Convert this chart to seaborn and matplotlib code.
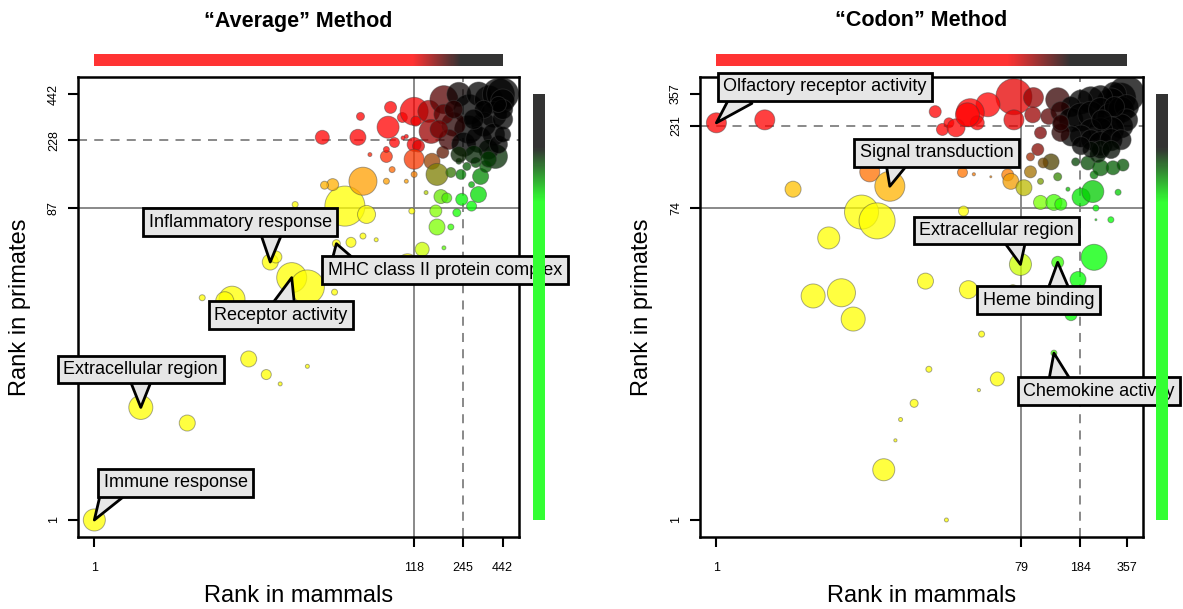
import numpy as np
import pandas as pd
import matplotlib
matplotlib.use("Agg")
import matplotlib.pyplot as plt
from matplotlib.colors import ListedColormap
import seaborn as sns

# ---------------- data ("Average" method) ----------------
avg_mammal = [1, 2.0, 4.0, 10, 13, 16, 24, 5, 6, 7.8, 7, 13.8, 15, 19, 24, 36, 37, 46, 55, 67,
              42, 58, 55, 35, 31, 20, 30, 51, 53, 83, 80, 99, 118, 121, 147, 152, 88, 105, 100, 118,
              126, 78, 78, 61, 118, 85, 118, 105, 78, 154, 166, 141, 176, 163, 192, 166, 133, 107, 114, 204,
              184, 223, 240, 278, 308, 278, 318, 237, 204, 259, 230, 397, 343, 296, 181,
              184, 230, 266, 309, 358, 415, 442, 442, 386, 333, 266, 213, 198, 247, 309, 386, 442, 442,
              358, 415, 287, 230, 184, 415, 333, 287, 442, 213, 171, 358]
avg_primate = [1, 5.0, 4.0, 10, 8, 7, 9, 24, 20, 23.5, 23, 40, 43, 32, 28, 26, 52, 53, 58, 55,
               89, 79, 127, 121, 120, 91, 238, 238, 321, 365, 275, 316, 345, 300, 345, 259, 221, 241, 236, 215,
               210, 181, 200, 186, 174, 150, 140, 127, 127, 169, 140, 108, 102, 83, 100, 66, 48, 39, 83, 66,
               49, 81, 98, 89, 105, 121, 136, 140, 144, 157, 169, 181, 157, 166, 192,
               408, 440, 355, 442, 408, 440, 442, 400, 331, 287, 267, 287, 231, 215, 231, 248, 308, 355,
               200, 215, 186, 186, 331, 381, 355, 308, 248, 355, 267, 174]
avg_genes = [242, 288, 128, 128, 50, 8, 8, 18, 18, 338, 162, 128, 72, 450, 578, 18, 32, 50, 18, 8,
             800, 162, 392, 72, 32, 18, 98, 128, 32, 72, 242, 50, 392, 50, 242, 288, 50, 8, 8, 98,
             72, 72, 18, 8, 200, 18, 18, 8, 18, 128, 242, 8, 98, 72, 50, 128, 98, 200, 18, 18,
             8, 32, 72, 50, 128, 18, 128, 50, 50, 32, 18, 288, 72, 50, 72,
             392, 288, 450, 288, 392, 512, 512, 288, 338, 288, 392, 288, 200, 288, 338, 242, 200, 200,
             200, 162, 162, 128, 200, 128, 162, 200, 128, 162, 162, 128]
avg_n_terms = 442
avg_cut_solid = (118, 87)      # (mammals, primates)
avg_cut_dashed = (245, 228)
avg_xticks = [1, 118, 245, 442]
avg_yticks = [1, 87, 228, 442]
avg_labels = ["Immune response", "Extracellular region", "Inflammatory response",
              "Receptor activity", "MHC class II protein complex"]
avg_label_point = [0, 1, 11, 13, 16]

# ---------------- data ("Codon" method) ----------------
cod_mammal = [1, 2.0, 3.0, 9.0, 12, 34, 40, 8, 10, 34.5, 5.0, 20, 37, 4.0, 6.0, 7.1, 44.7, 21, 56, 43,
              17, 14, 13, 11, 27, 78, 133, 224, 178, 161, 126, 70, 71, 49, 38, 42, 71, 94, 93, 104,
              133, 117, 139, 100, 90, 121, 108, 90, 65, 68, 82, 104, 133, 104, 126, 139, 154, 186, 220, 230,
              285, 316, 224, 172, 205, 246, 294, 339, 237, 23, 25.5, 28, 31, 36.5, 51, 230,
              357, 330, 300, 286, 246, 214, 186, 161, 139, 161, 186, 214, 246, 286, 330, 357, 357, 330,
              286, 246, 214, 186, 161, 139, 214, 246, 286, 330, 246, 286, 214, 186, 139, 300, 250]
cod_primate = [240, 250, 96, 122, 100, 121, 118, 70, 62, 71, 49, 27, 24, 22, 23, 16, 13, 8, 7, 6,
               5, 4, 3, 2, 1, 34, 35, 37.5, 27.6, 17, 10, 24, 344, 308, 276, 240, 250, 340, 268, 209,
               330, 262, 234, 166, 150, 140, 138, 122, 117, 107, 98, 107, 114, 80, 80, 78, 96, 86, 93, 74,
               63, 92, 117, 140, 138, 129, 129, 134, 155, 280, 219, 240, 224, 268, 114, 63,
               357, 340, 357, 320, 340, 330, 320, 300, 280, 250, 260, 270, 288, 260, 288, 300, 250, 230,
               218, 218, 218, 200, 200, 210, 190, 180, 190, 190, 166, 166, 166, 175, 240, 300, 250]
cod_genes = [200, 200, 128, 200, 450, 50, 5, 578, 648, 50, 242, 128, 162, 288, 392, 288, 18, 18, 98, 5,
             32, 8, 5, 242, 8, 242, 72, 338, 128, 72, 18, 50, 648, 288, 392, 98, 200, 200, 128, 72,
             288, 128, 128, 72, 32, 128, 50, 72, 72, 128, 128, 18, 32, 98, 128, 72, 8, 162, 242, 18,
             18, 18, 32, 32, 98, 128, 98, 72, 128, 72, 72, 50, 162, 288, 2, 2,
             648, 450, 288, 392, 288, 338, 288, 200, 200, 288, 392, 338, 288, 392, 338, 288, 242, 288,
             338, 288, 242, 242, 200, 162, 200, 288, 242, 200, 162, 162, 128, 162, 128, 200, 200]
cod_n_terms = 357
cod_cut_solid = (79, 74)
cod_cut_dashed = (184, 231)
cod_xticks = [1, 79, 184, 357]
cod_yticks = [1, 74, 231, 357]
cod_labels = ["Olfactory receptor activity", "Signal transduction", "Extracellular region",
              "Heme binding", "Chemokine activity"]
cod_label_point = [0, 4, 25, 26, 30]

# ---------------- style / layout ----------------
sns.set_theme(style="white")
plt.rcParams['font.family'] = ['Liberation Sans', 'DejaVu Sans']
plt.rcParams.update({"text.color": "black", "axes.labelcolor": "black",
                     "xtick.color": "black", "ytick.color": "black"})

W, H = 1183, 609
fig = plt.figure(figsize=(W / 100, H / 100), dpi=100)


def fbox(x0, y0, x1, y1):
    return [x0 / W, 1 - y1 / H, (x1 - x0) / W, (y1 - y0) / H]


ALPHA = 0.75


def fade(vals, lo, hi):
    v = np.log(np.asarray(vals, float))
    return 1 - np.clip((v - np.log(lo)) / (np.log(hi) - np.log(lo)), 0, 1)


def draw_panel(px, title, mam, pri, genes, n, solid, dashed, xt, yt, labels, lab_pt,
               label_layout, xband, yband, rbar_x):
    ax_l, ax_r = px
    ax = fig.add_axes(fbox(ax_l, 77, ax_r, 537))
    ax.set_xscale("log")
    ax.set_yscale("log")
    lim = (n ** -0.04, n ** 1.04)

    df = pd.DataFrame({"mammal": mam, "primate": pri, "genes": genes})
    rr = fade(df["mammal"], *xband)
    gg = fade(df["primate"], *yband)
    cols = [(r, g, 0.0, ALPHA) for r, g in zip(rr, gg)]
    ax.axvline(solid[0], color="#808080", lw=1.3, zorder=0.5)
    ax.axhline(solid[1], color="#808080", lw=1.3, zorder=0.5)
    ax.axvline(dashed[0], color="#808080", lw=1.3, ls=(0, (5, 4)), zorder=0.5)
    ax.axhline(dashed[1], color="#808080", lw=1.3, ls=(0, (5, 4)), zorder=0.5)

    sns.scatterplot(data=df, x="mammal", y="primate", c=cols, s=df["genes"] * 1.04,
                    edgecolor=(0.25, 0.25, 0.25, 0.45), linewidth=0.7, legend=False,
                    ax=ax, zorder=2)
    ax.set_xlim(*lim)
    ax.set_ylim(*lim)
    ax.minorticks_off()
    ax.set_xticks(xt)
    ax.set_xticklabels([str(t) for t in xt], fontsize=9)
    ax.set_yticks(yt)
    ax.set_yticklabels([str(t) for t in yt], fontsize=9, rotation=90, va="center")
    ax.tick_params(axis="x", length=7, width=1.5, pad=11, colors="black", bottom=True)
    ax.tick_params(axis="y", length=7, width=1.5, pad=6, colors="black", left=True)
    ax.minorticks_off()
    for sp in ax.spines.values():
        sp.set_color("black")
        sp.set_linewidth(1.8)
    ax.set_xlabel("Rank in mammals", fontsize=17, labelpad=8, color="black")
    ax.set_ylabel("Rank in primates", fontsize=17, labelpad=12, color="black")
    ax.grid(False)

    fig.text((ax_l + ax_r) / 2 / W, 1 - 21 / H, title, ha="center", va="center",
             fontsize=15.5, fontweight="bold", color="black")

    # callouts
    for txt, idx, (tx, ty, rel) in zip(labels, lab_pt, label_layout):
        ax.annotate(txt, xy=(df["mammal"][idx], df["primate"][idx]), xytext=(tx, ty),
                    textcoords="data", ha="center", va="center", fontsize=13, color="black",
                    bbox=dict(boxstyle="square,pad=0.3", fc="#e6e6e6", ec="black", lw=2),
                    arrowprops=dict(arrowstyle="wedge,tail_width=1.3,shrink_factor=0.5",
                                    fc="#e6e6e6", ec="black", lw=2, relpos=rel,
                                    patchA=None, shrinkA=0, shrinkB=0),
                    annotation_clip=False, zorder=10)

    # colour bars
    edges = np.geomspace(1, n, 400)
    mids = np.sqrt(edges[:-1] * edges[1:])
    rv = fade(mids, *xband)
    gv = fade(mids, *yband)
    top_cols = [(0.2 + 0.8 * r, 0.2, 0.2) for r in rv]
    side_cols = [(0.2, 0.2 + 0.8 * g, 0.2) for g in gv]

    axt = fig.add_axes(fbox(ax_l, 54, ax_r, 66))
    axt.set_xscale("log")
    axt.pcolormesh(edges, [0, 1], np.arange(len(mids)).reshape(1, -1),
                   cmap=ListedColormap(top_cols), shading="flat")
    axt.set_xlim(*lim)
    axt.set_ylim(0, 1)
    axt.axis("off")

    axs = fig.add_axes(fbox(rbar_x, 77, rbar_x + 12, 537))
    axs.set_yscale("log")
    axs.pcolormesh([0, 1], edges, np.arange(len(mids)).reshape(-1, 1),
                   cmap=ListedColormap(side_cols), shading="flat")
    axs.set_ylim(*lim)
    axs.set_xlim(0, 1)
    axs.axis("off")
    return ax


avg_layout = [(3.37, 1.7, (0.06, 0.0)),
              (2.0, 8.6, (0.5, 0.0)),
              (8.8, 70.6, (0.67, 0.0)),
              (16.2, 18.7, (0.52, 1.0)),
              (187, 35.6, (0.06, 1.0))]
cod_layout = [(4.73, 395, (0.1, 0.0)),
              (23.4, 159, (0.24, 0.0)),
              (55.4, 54.3, (0.62, 0.0)),
              (101, 20.7, (0.68, 1.0)),
              (240, 5.9, (0.24, 1.0))]

draw_panel((78, 519), "\u201cAverage\u201d Method", avg_mammal, avg_primate, avg_genes,
           avg_n_terms, avg_cut_solid, avg_cut_dashed, avg_xticks, avg_yticks,
           avg_labels, avg_label_point, avg_layout, (115, 235), (95, 205), 533)
draw_panel((700, 1143), "\u201cCodon\u201d Method", cod_mammal, cod_primate, cod_genes,
           cod_n_terms, cod_cut_solid, cod_cut_dashed, cod_xticks, cod_yticks,
           cod_labels, cod_label_point, cod_layout, (65, 160), (80, 170), 1156)

fig.savefig("out.png", dpi=100)
